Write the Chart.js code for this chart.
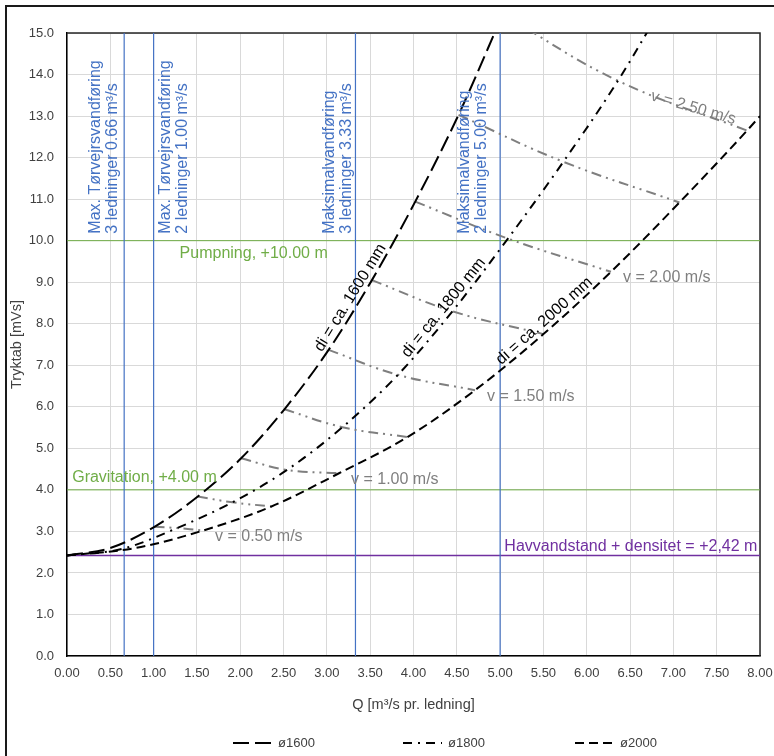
<!DOCTYPE html>
<html>
<head>
<meta charset="utf-8">
<title>Tryktab</title>
<script src="https://cdn.jsdelivr.net/npm/chart.js@4.4.1/dist/chart.umd.min.js"></script>
<style>
  body { margin: 0; background: #fff; }
  canvas { display: block; }
</style>
</head>
<body>
<canvas id="chart" width="774" height="756"></canvas>
<script>
// axis ticks
const xTickValues = [0, 0.5, 1, 1.5, 2, 2.5, 3, 3.5, 4, 4.5, 5, 5.5, 6, 6.5, 7, 7.5, 8];
const yTickValues = [0, 1, 2, 3, 4, 5, 6, 7, 8, 9, 10, 11, 12, 13, 14, 15];

// flow velocities, one point per velocity on each pipe curve (index 0 = Q 0)
const velocities = [0.25, 0.50, 0.75, 1.00, 1.25, 1.50, 1.75, 2.00, 2.25, 2.50];

const q1600 = [0, 0.50, 1.01, 1.51, 2.01, 2.51, 3.02, 3.52, 4.02, 4.52, 5.03];
const h1600 = [2.42, 2.60, 3.11, 3.84, 4.76, 5.94, 7.37, 9.05, 10.94, 13.03, 15.45];

const q1800 = [0, 0.64, 1.27, 1.91, 2.54, 3.18, 3.82, 4.45, 5.09, 5.73, 6.36, 7.00];
const h1800 = [2.42, 2.58, 3.08, 3.70, 4.48, 5.51, 6.77, 8.30, 10.05, 11.90, 13.85, 16.10];

const q2000 = [0, 0.79, 1.57, 2.36, 3.14, 3.93, 4.71, 5.50, 6.28, 7.07, 7.85, 8.00];
const h2000 = [2.42, 2.60, 3.02, 3.60, 4.40, 5.27, 6.40, 7.75, 9.25, 10.92, 12.65, 13.00];

// reference lines
const flowMarks = [0.66, 1.00, 3.33, 5.00];
const levelMarks = [10.00, 4.00, 2.42];

const FONT = '"Liberation Sans", Arial, sans-serif';
const BLUE = '#4472C4';
const GREEN = '#70AD47';
const PURPLE = '#7030A0';
const GREY = '#7F7F7F';

const flowNotes = [
    { q: flowMarks[0], dx: -29, lines: ['Max. Tørvejrsvandføring', '3 ledninger 0.66 m³/s'] },
    { q: flowMarks[1], dx: 12, lines: ['Max. Tørvejrsvandføring', '2 ledninger 1.00 m³/s'] },
    { q: flowMarks[2], dx: -26, lines: ['Maksimalvandføring', '3 ledninger 3.33 m³/s'] },
    { q: flowMarks[3], dx: -36, lines: ['Maksimalvandføring', '2 ledninger 5.00 m³/s'] }
];

const levelNotes = [
    { level: levelMarks[0], q: 1.30, dy: 13, align: 'left', color: GREEN, text: 'Pumpning, +10.00 m' },
    { level: levelMarks[1], q: 0.06, dy: -12, align: 'left', color: GREEN, text: 'Gravitation, +4.00 m' },
    { level: levelMarks[2], q: 7.97, dy: -9, align: 'right', color: PURPLE, text: 'Havvandstand + densitet = +2,42 m' }
];

const pipeNotes = [
    { qs: q1600, hs: h1600, q: 3.36, text: 'di = ca. 1600 mm' },
    { qs: q1800, hs: h1800, q: 4.43, text: 'di = ca. 1800 mm' },
    { qs: q2000, hs: h2000, q: 5.58, text: 'di = ca. 2000 mm' }
];

function pts(qs, hs) {
    return qs.map((q, i) => ({ x: q, y: hs[i] }));
}

function interpH(qs, hs, q) {
    for (let i = 1; i < qs.length; i++) {
        if (q <= qs[i]) {
            const t = (q - qs[i - 1]) / (qs[i] - qs[i - 1]);
            return hs[i - 1] + t * (hs[i] - hs[i - 1]);
        }
    }
    return hs[hs.length - 1];
}

const datasets = [
    {
        label: 'ø1600', data: pts(q1600, h1600), borderColor: '#000', borderWidth: 2,
        borderDash: [16, 6], cubicInterpolationMode: 'monotone', order: 1, legend: true
    },
    {
        label: 'ø1800', data: pts(q1800, h1800), borderColor: '#000', borderWidth: 2,
        borderDash: [9, 6, 2, 6], cubicInterpolationMode: 'monotone', order: 1, legend: true
    },
    {
        label: 'ø2000', data: pts(q2000, h2000), borderColor: '#000', borderWidth: 2,
        borderDash: [9, 5], cubicInterpolationMode: 'monotone', order: 1, legend: true
    }
];

// velocity lines from 0.50 m/s
velocities.forEach((v, k) => {
    if (v < 0.5) return;
    const i = k + 1;
    datasets.push({
        label: 'v = ' + v.toFixed(2),
        data: [
            { x: q1600[i], y: h1600[i] },
            { x: q1800[i], y: h1800[i] },
            { x: q2000[i], y: h2000[i] }
        ],
        borderColor: GREY, borderWidth: 2, borderDash: [10, 5, 2, 5, 2, 5],
        tension: 0.4, order: 2
    });
});

flowMarks.forEach(q => {
    datasets.push({
        label: 'Q ' + q, data: [{ x: q, y: 0 }, { x: q, y: 15 }],
        borderColor: BLUE, borderWidth: 1.2, order: 3
    });
});

levelMarks.forEach((h, i) => {
    datasets.push({
        label: 'H ' + h, data: [{ x: 0, y: h }, { x: 8, y: h }],
        borderColor: i < 2 ? GREEN : PURPLE, borderWidth: i < 2 ? 1 : 1.5, order: 3
    });
});

const frame = {
    id: 'frame',
    beforeDraw(chart) {
        const ctx = chart.ctx;
        ctx.save();
        ctx.fillStyle = '#fff';
        ctx.fillRect(0, 0, chart.width, chart.height);
        ctx.strokeStyle = '#1a1a1a';
        ctx.lineWidth = 2;
        ctx.beginPath();
        ctx.moveTo(6, chart.height);
        ctx.lineTo(6, 6);
        ctx.lineTo(chart.width, 6);
        ctx.stroke();
        ctx.restore();
    },
    beforeDatasetsDraw(chart) {
        const a = chart.chartArea;
        const ctx = chart.ctx;
        ctx.save();
        ctx.strokeStyle = '#262626';
        ctx.lineWidth = 1.5;
        ctx.beginPath();
        ctx.moveTo(a.left, a.top);
        ctx.lineTo(a.right, a.top);
        ctx.lineTo(a.right, a.bottom);
        ctx.stroke();
        ctx.restore();
    }
};

const notes = {
    id: 'notes',
    afterDatasetsDraw(chart) {
        const ctx = chart.ctx;
        const xs = chart.scales.x;
        const ys = chart.scales.y;
        ctx.save();
        ctx.font = '16px ' + FONT;

        // flow marks, rotated
        ctx.fillStyle = BLUE;
        ctx.textAlign = 'left';
        ctx.textBaseline = 'middle';
        flowNotes.forEach(n => {
            const x0 = xs.getPixelForValue(n.q) + n.dx;
            const y0 = ys.getPixelForValue(10) - 7;
            n.lines.forEach((line, i) => {
                ctx.save();
                ctx.translate(x0 + i * 17, y0);
                ctx.rotate(-Math.PI / 2);
                ctx.fillText(line, 0, 0);
                ctx.restore();
            });
        });

        // level marks
        levelNotes.forEach(n => {
            ctx.fillStyle = n.color;
            ctx.textAlign = n.align;
            ctx.fillText(n.text, xs.getPixelForValue(n.q), ys.getPixelForValue(n.level) + n.dy);
        });

        // pipe labels along curves
        ctx.fillStyle = '#000';
        ctx.textAlign = 'center';
        ctx.textBaseline = 'bottom';
        pipeNotes.forEach(n => {
            const x = xs.getPixelForValue(n.q);
            const y = ys.getPixelForValue(interpH(n.qs, n.hs, n.q));
            const x1 = xs.getPixelForValue(n.q - 0.2);
            const y1 = ys.getPixelForValue(interpH(n.qs, n.hs, n.q - 0.2));
            const x2 = xs.getPixelForValue(n.q + 0.2);
            const y2 = ys.getPixelForValue(interpH(n.qs, n.hs, n.q + 0.2));
            ctx.save();
            ctx.translate(x, y);
            ctx.rotate(Math.atan2(y2 - y1, x2 - x1));
            ctx.fillText(n.text, 0, -1);
            ctx.restore();
        });

        // velocity labels
        ctx.fillStyle = GREY;
        ctx.textAlign = 'left';
        ctx.textBaseline = 'middle';
        velocities.forEach((v, k) => {
            const i = k + 1;
            if (v === 0.5 || v === 1.0 || v === 1.5 || v === 2.0) {
                ctx.fillText('v = ' + v.toFixed(2) + ' m/s',
                    xs.getPixelForValue(q2000[i]) + 12, ys.getPixelForValue(h2000[i]) + 6);
            }
            if (v === 2.5) {
                const q = 7.23;
                const h = h1800[i] + (h2000[i] - h1800[i]) * (q - q1800[i]) / (q2000[i] - q1800[i]);
                ctx.save();
                ctx.translate(xs.getPixelForValue(q), ys.getPixelForValue(h) - 2);
                ctx.rotate(16 * Math.PI / 180);
                ctx.textAlign = 'center';
                ctx.fillText('v = ' + v.toFixed(2) + ' m/s', 0, 0);
                ctx.restore();
            }
        });
        ctx.restore();
    },
    afterDraw(chart) {
        // legend
        const ctx = chart.ctx;
        const items = chart.data.datasets.filter(d => d.legend);
        const starts = [233, 403, 575];
        const y = 743;
        ctx.save();
        ctx.font = '13px ' + FONT;
        ctx.textBaseline = 'middle';
        ctx.textAlign = 'left';
        items.forEach((d, i) => {
            ctx.strokeStyle = d.borderColor;
            ctx.lineWidth = d.borderWidth;
            ctx.setLineDash(d.borderDash);
            ctx.beginPath();
            ctx.moveTo(starts[i], y);
            ctx.lineTo(starts[i] + 39, y);
            ctx.stroke();
            ctx.fillStyle = '#404040';
            ctx.fillText(d.label, starts[i] + 45, y);
        });
        ctx.restore();
    }
};

new Chart(document.getElementById('chart'), {
    type: 'line',
    data: { datasets: datasets },
    options: {
        responsive: false,
        animation: false,
        devicePixelRatio: 1,
        layout: { padding: { left: 0, right: 14, top: 33, bottom: 0 } },
        elements: {
            point: { radius: 0, hoverRadius: 0 },
            line: { fill: false }
        },
        datasets: { line: { clip: 0 } },
        plugins: {
            legend: { display: false },
            tooltip: { enabled: false }
        },
        scales: {
            x: {
                type: 'linear', min: 0, max: 8,
                afterBuildTicks: s => { s.ticks = xTickValues.map(v => ({ value: v })); },
                afterFit: s => { s.height = 100; s.paddingLeft = 0; s.paddingRight = 0; },
                ticks: {
                    callback: v => Number(v).toFixed(2),
                    color: '#404040', font: { family: FONT, size: 13 },
                    padding: 10, maxRotation: 0, autoSkip: false
                },
                grid: { color: '#d9d9d9', drawTicks: false },
                border: { color: '#000', width: 1.5 },
                title: {
                    display: true, text: 'Q [m³/s pr. ledning]', color: '#404040',
                    font: { family: FONT, size: 14.5 }, padding: { top: 0, bottom: 42 }
                }
            },
            y: {
                type: 'linear', min: 0, max: 15,
                afterBuildTicks: s => { s.ticks = yTickValues.map(v => ({ value: v })); },
                afterFit: s => { s.width = 67; s.paddingTop = 0; s.paddingBottom = 0; },
                ticks: {
                    callback: v => Number(v).toFixed(1),
                    color: '#404040', font: { family: FONT, size: 13 },
                    padding: 13, autoSkip: false
                },
                grid: { color: '#d9d9d9', drawTicks: false },
                border: { color: '#000', width: 1.5 },
                title: {
                    display: true, text: 'Tryktab [mVs]', color: '#404040',
                    font: { family: FONT, size: 14.5 }, padding: { top: 8, bottom: 0 }
                }
            }
        }
    },
    plugins: [frame, notes]
});
</script>
</body>
</html>
